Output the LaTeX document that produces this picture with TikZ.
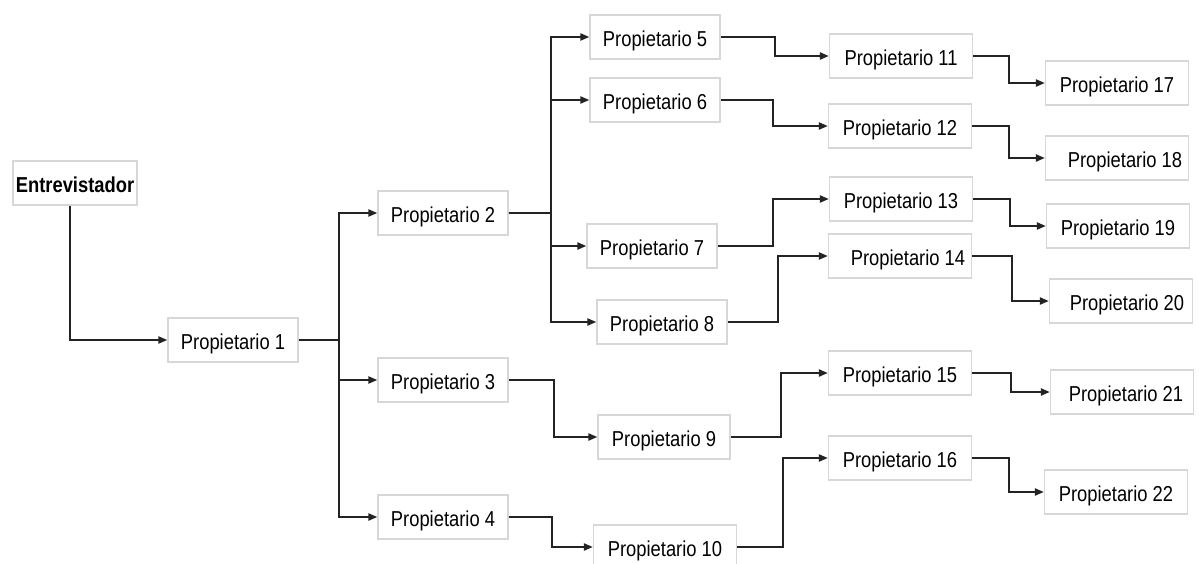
\documentclass[tikz,border=0pt]{standalone}
\usepackage{fontspec}
\setmainfont{Liberation Sans}[FakeStretch=0.85]
\usetikzlibrary{arrows.meta, positioning}
\definecolor{boxGray}{RGB}{215, 215, 215}
\definecolor{lineDark}{RGB}{35, 35, 35}

\begin{document}
\begin{tikzpicture}[
    x=0.5pt, y=-0.5pt,
    every node/.style={font=\fontsize{10.8}{12}\selectfont},
    owner/.style={rectangle, draw=boxGray, fill=white, line width=0.7pt, minimum width=65pt, minimum height=22pt, inner sep=1pt, text height=9pt, text depth=0pt},
    wide/.style={owner, minimum width=71.5pt},
    flow/.style={-{Triangle[length=4.5pt, width=3.6pt]}, draw=lineDark, line width=0.9pt},
]
\useasboundingbox (0,0) rectangle (1199,563);
% ROOT
\node[owner, minimum width=62pt, font=\fontsize{10.8}{12}\selectfont\bfseries] (ent) at (75,183) {Entrevistador};
\node[owner] (p1) at (233,340) {Propietario 1};
\draw[flow] ([xshift=-2.5pt]ent.south) |- (p1.west);
% LEVEL 2
\node[owner] (p2) at (443,213) {Propietario 2};
\node[owner] (p3) at (443,380) {Propietario 3};
\node[owner] (p4) at (443,517) {Propietario 4};
\draw[flow] (p1.east) -- ++(40,0) |- (p2.west);
\draw[flow] (p1.east) -- ++(40,0) |- (p3.west);
\draw[flow] (p1.east) -- ++(40,0) |- (p4.west);
% LEVEL 3
\node[owner] (p5) at (655,37) {Propietario 5};
\node[owner] (p6) at (655,100) {Propietario 6};
\node[owner] (p7) at (652,246) {Propietario 7};
\node[owner] (p8) at (662,322) {Propietario 8};
\node[owner, minimum width=66pt] (p9) at (664,437) {Propietario 9};
\node[wide] (p10) at (665,547) {Propietario 10};
\draw[flow] (p2.east) -- ++(42,0) |- (p5.west);
\draw[flow] (p2.east) -- ++(42,0) |- (p6.west);
\draw[flow] (p2.east) -- ++(42,0) |- (p7.west);
\draw[flow] (p2.east) -- ++(42,0) |- (p8.west);
\draw[flow] (p3.east) -- ++(45,0) |- (p9.west);
\draw[flow] (p4.east) -- ++(43,0) |- (p10.west);
% LEVEL 4
\node[wide] (p11) at (901,56) {Propietario 11};
\node[wide] (p12) at (900,126) {Propietario 12};
\node[wide] (p13) at (901,199) {Propietario 13};
\node[wide] (p14) at (900,256) {\hspace{8pt}Propietario 14};
\node[wide] (p15) at (900,373) {Propietario 15};
\node[wide] (p16) at (900,458) {Propietario 16};
\draw[flow] (p5.east) -- ++(54,0) |- (p11.west);
\draw[flow] (p6.east) -- ++(52,0) |- (p12.west);
\draw[flow] (p7.east) -- ++(55,0) |- (p13.west);
\draw[flow] (p8.east) -- ++(50,0) |- (p14.west);
\draw[flow] (p9.east) -- ++(50,0) |- (p15.west);
\draw[flow] (p10.east) -- ++(46,0) |- (p16.west);
% LEVEL 5
\node[wide] (p17) at (1117,83) {Propietario 17};
\node[wide] (p18) at (1117,158) {\hspace{8pt}Propietario 18};
\node[wide] (p19) at (1118,226) {Propietario 19};
\node[wide] (p20) at (1121,301) {\hspace{6pt}Propietario 20};
\node[wide] (p21) at (1122,392) {\hspace{4pt}Propietario 21};
\node[wide] (p22) at (1116,492) {Propietario 22};
\draw[flow] (p11.east) -- ++(36,0) |- (p17.west);
\draw[flow] (p12.east) -- ++(37,0) |- (p18.west);
\draw[flow] (p13.east) -- ++(37,0) |- (p19.west);
\draw[flow] (p14.east) -- ++(40,0) |- (p20.west);
\draw[flow] (p15.east) -- ++(39,0) |- (p21.west);
\draw[flow] (p16.east) -- ++(37,0) |- (p22.west);
\end{tikzpicture}
\end{document}
